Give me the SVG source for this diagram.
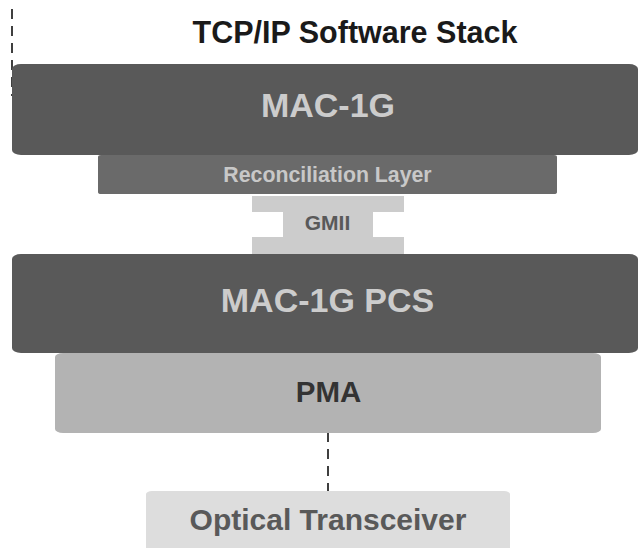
<svg xmlns="http://www.w3.org/2000/svg" width="638" height="548" viewBox="0 0 638 548">
<style>
text{font-family:"Liberation Sans",Arial,sans-serif;font-weight:bold;text-anchor:middle}
.dark{fill:#595959}
.dash{stroke:#000;stroke-width:1.5;stroke-dasharray:10 7;fill:none}
</style>
<rect width="638" height="548" fill="#fff"/>
<g id="connectors">
<line class="dash" x1="12" y1="9" x2="12" y2="96"/>
<line class="dash" x1="328" y1="432" x2="328" y2="491"/>
</g>
<g id="title"><text x="355" y="43" font-size="30.5" fill="#1a1a1a">TCP/IP Software Stack</text></g>
<g id="mac1g">
<rect x="12" y="64" width="626" height="91" rx="9" ry="5" class="dark"/>
<text x="328" y="117" font-size="34" fill="#cccccc">MAC-1G</text>
</g>
<g id="reconciliation">
<rect x="98" y="155" width="459" height="39" rx="3" ry="2" fill="#6a6a6a"/>
<text x="327.5" y="182" font-size="21.3" fill="#c8c8c8">Reconciliation Layer</text>
</g>
<g id="gmii">
<path d="M252 196H404V212H373V237H404V254H252V237H283V212H252Z" fill="#cccccc"/>
<text x="327.5" y="230" font-size="21" fill="#595959">GMII</text>
</g>
<g id="pcs">
<rect x="12" y="254" width="626" height="99" rx="9" ry="5" class="dark"/>
<text x="327.5" y="312" font-size="34" fill="#cccccc">MAC-1G PCS</text>
</g>
<g id="pma">
<rect x="55" y="353" width="546" height="80" rx="8" ry="4" fill="#b3b3b3"/>
<text x="328.5" y="402" font-size="29.5" fill="#333333">PMA</text>
</g>
<g id="optical">
<rect x="146" y="491" width="364" height="70" rx="6" ry="3" fill="#dddddd"/>
<text x="328" y="530" font-size="30" fill="#595959">Optical Transceiver</text>
</g>
</svg>
